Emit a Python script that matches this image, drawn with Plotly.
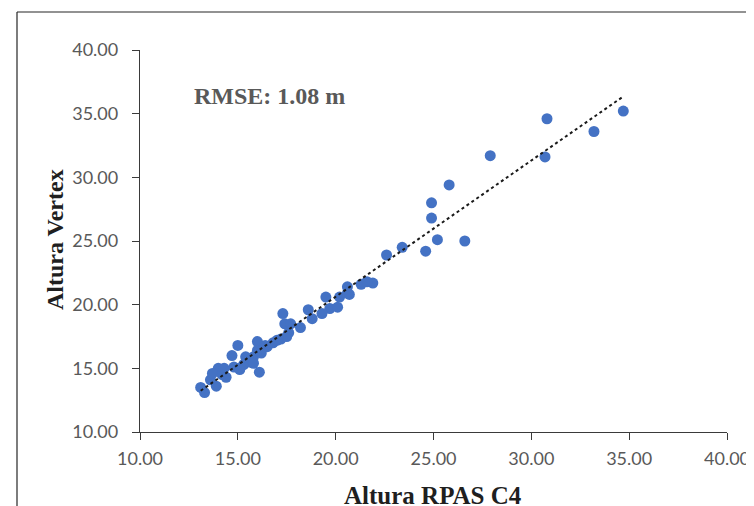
import numpy as np
import plotly.graph_objects as go

# Altura RPAS C4 (x) vs Altura Vertex (y)
altura_rpas = [34.7, 33.2, 30.8, 30.7, 27.9, 25.8, 24.9, 24.9, 25.2, 26.6, 24.6, 23.4, 22.6,
               21.9, 21.6, 21.3, 20.6, 20.7, 20.6, 20.2, 19.5, 19.7, 20.1, 18.6, 18.8, 19.3,
               17.3, 17.4, 17.7, 18.2, 17.6, 17.2, 17.5, 16.8, 16.5,
               13.1, 13.3, 13.6, 13.9, 14.0, 14.2, 14.3, 14.7, 15.0, 15.1, 15.3, 15.6, 15.8,
               16.0, 16.1, 16.2, 16.0, 15.4, 14.8, 13.7, 14.4, 15.1, 15.8, 16.4, 17.0]
altura_vertex = [35.2, 33.6, 34.6, 31.6, 31.7, 29.4, 28.0, 26.8, 25.1, 25.0, 24.2, 24.5, 23.9,
                 21.7, 21.8, 21.6, 21.4, 20.8, 20.9, 20.6, 20.6, 19.7, 19.8, 19.6, 18.9, 19.3,
                 19.3, 18.5, 18.5, 18.2, 17.8, 17.3, 17.5, 17.0, 16.7,
                 13.5, 13.1, 14.1, 13.6, 15.0, 14.5, 15.0, 16.0, 16.8, 15.0, 15.3, 15.5, 15.9,
                 17.1, 14.7, 16.2, 16.4, 15.9, 15.1, 14.6, 14.3, 14.9, 15.4, 16.8, 17.2]
tick_vals = [10, 15, 20, 25, 30, 35, 40]
rmse_label = "RMSE: 1.08 m"
x_title = "Altura RPAS C4"
y_title = "Altura Vertex"

slope, intercept = np.polyfit(altura_rpas, altura_vertex, 1)
xt = np.array([min(altura_rpas), max(altura_rpas)])
yt = slope * xt + intercept

fig = go.Figure()
fig.add_trace(go.Scatter(x=altura_rpas, y=altura_vertex, mode="markers",
                         marker=dict(color="#4472C4", size=11, line=dict(width=0)),
                         showlegend=False, hoverinfo="skip"))
fig.add_trace(go.Scatter(x=xt, y=yt, mode="lines",
                         line=dict(color="#1a1a1a", width=2, dash="dot"),
                         showlegend=False, hoverinfo="skip"))

axis_common = dict(range=[10, 40], tickvals=tick_vals, tickformat=".2f",
                   showgrid=False, zeroline=False, showline=True, automargin=False,
                   linecolor="#3a3a3a", linewidth=1.3, ticks="outside",
                   ticklen=7, tickcolor="#3a3a3a", tickwidth=1.3,
                   ticklabeloverflow="allow",
                   tickfont=dict(family="Lato, Open Sans", size=18, color="#595959"))
fig.update_xaxes(**axis_common, ticklabelstandoff=3)
fig.update_yaxes(**axis_common, ticklabelstandoff=10)

# page body has an 8px margin: figure origin sits at (8, 8) in the window
W, H = 746, 498
L, R, T, B = 132, 27, 42, 74
px0, px1, py0, py1 = 140, 727, 50, 432  # plot area in window pixels


def pxx(x):
    return (x - px0) / (px1 - px0)


def pyy(y):
    return (py1 - y) / (py1 - py0)


fig.update_layout(
    width=W, height=H,
    margin=dict(l=L, r=R, t=T, b=B),
    paper_bgcolor="white", plot_bgcolor="white",
    annotations=[
        dict(text=f"<b>{rmse_label}</b>", xref="paper", yref="paper",
             x=pxx(192), y=pyy(96), xanchor="left", yanchor="middle",
             showarrow=False,
             font=dict(family="Liberation Serif", size=24, color="#595959")),
        dict(text=f"<b>{x_title}</b>", xref="paper", yref="paper",
             x=pxx(433), y=pyy(495), xanchor="center", yanchor="middle",
             showarrow=False,
             font=dict(family="Liberation Serif", size=25, color="#1f1f1f")),
        dict(text=f"<b>{y_title}</b>", xref="paper", yref="paper",
             x=pxx(55), y=pyy(240), xanchor="center", yanchor="middle",
             textangle=-90, showarrow=False,
             font=dict(family="Liberation Serif", size=24, color="#1f1f1f")),
    ],
    shapes=[
        dict(type="line", xref="paper", yref="paper",
             x0=pxx(17), x1=pxx(760), y0=pyy(12), y1=pyy(12),
             line=dict(color="#262626", width=1.2)),
        dict(type="line", xref="paper", yref="paper",
             x0=pxx(17), x1=pxx(17), y0=pyy(12), y1=pyy(510),
             line=dict(color="#262626", width=1.2)),
    ],
)

fig.write_html(
    "out.html",
    config={"responsive": False},
    post_script=(
        "document.querySelectorAll('.svg-container, .main-svg, .plotly-graph-div')"
        ".forEach(function(s){s.style.overflow='visible';});"
    ),
)
